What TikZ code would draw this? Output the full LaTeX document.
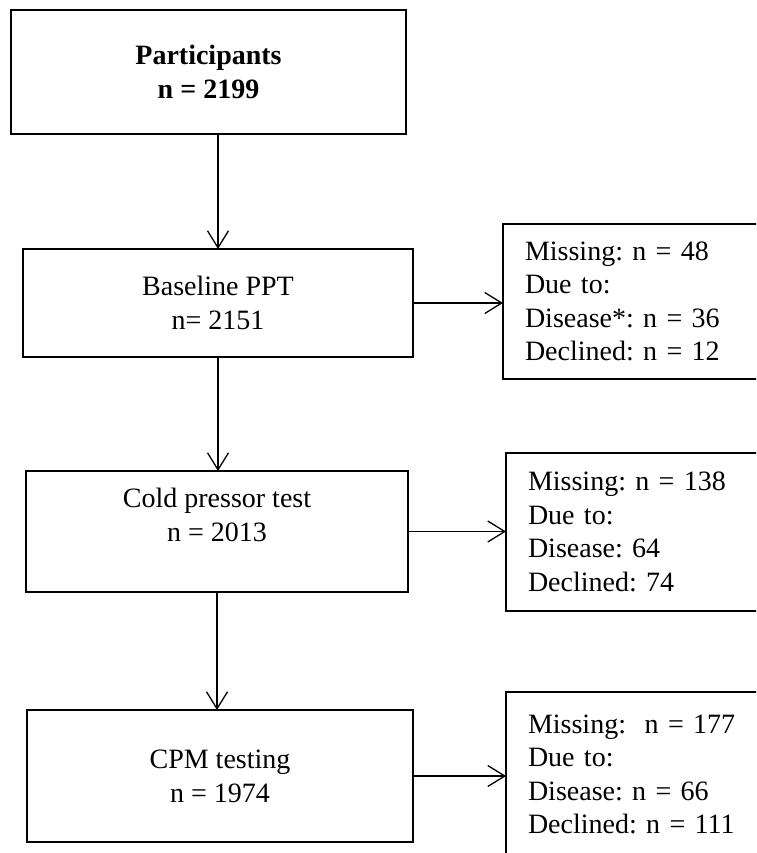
\documentclass[tikz,border=0pt]{standalone}
\usepackage{fontspec}
\setmainfont{Liberation Serif}
\usetikzlibrary{positioning,arrows.meta}
\frenchspacing

\begin{document}
\begin{tikzpicture}[x=1pt,y=-1pt,
box/.style={draw,line width=1.1pt,rectangle,align=center,outer sep=0pt,font=\fontsize{28}{34}\selectfont},
sidebox/.style={draw,line width=1.1pt,rectangle,align=left,outer sep=0pt,inner xsep=22pt,text width=226pt,minimum width=270pt,font=\fontsize{28}{33.5}\selectfont},
arr/.style={line width=1.3pt,-{Straight Barb[length=17pt,width=21pt]}}]
\useasboundingbox (0,0) rectangle (756,853);
\clip (0,0) rectangle (756,853);
\node[box,minimum width=395pt,minimum height=124pt,font=\bfseries\fontsize{28}{34}\selectfont] (part) at (208.5,72) {Participants\\ n = 2199};
\node[box,minimum width=390pt,minimum height=108pt] (base) at (218,303) {Baseline PPT\\ n= 2151};
\node[box,minimum width=382pt,minimum height=121pt] (cold) at (217,531.5) {Cold pressor test\\ n = 2013\\ \mbox{}};
\node[box,minimum width=386pt,minimum height=132pt] (cpm) at (220,776) {CPM testing\\ n = 1974};
\node[sidebox,minimum height=155pt] (miss1) at (638,301.5) {Missing: n = 48\\ Due to:\\ Disease*: n = 36\\ Declined: n = 12};
\node[sidebox,minimum height=158pt] (miss2) at (641,532) {Missing: n = 138\\ Due to:\\ Disease: 64\\ Declined: 74};
\node[sidebox,minimum height=165pt] (miss3) at (641,774.5) {Missing:~ n = 177\\ Due to:\\ Disease: n = 66\\ Declined: n = 111};
\draw[arr] (base.north |- part.south) -- (base.north);
\draw[arr] (base.south) -- (base.south |- cold.north);
\draw[arr] (cold.south) -- (cold.south |- cpm.north);
\draw[arr] (base.east) -- (base.east -| miss1.west);
\draw[arr] (cold.east) -- (cold.east -| miss2.west);
\draw[arr] (cpm.east) -- (cpm.east -| miss3.west);
\end{tikzpicture}
\end{document}
